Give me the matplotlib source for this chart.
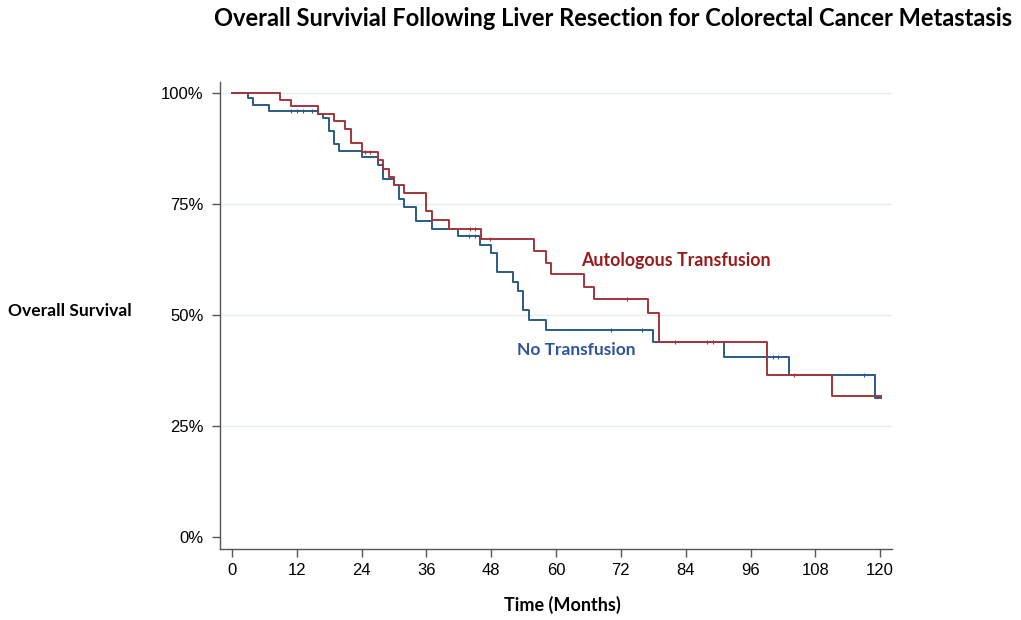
import numpy as np
import matplotlib
matplotlib.use("Agg")
import matplotlib.pyplot as plt

plt.rcParams['font.family'] = ['Liberation Sans', 'DejaVu Sans']

# Kaplan-Meier estimates (months, survival %) -- value after each event
auto_t = [0, 8.9, 10.9, 16.0, 18.9, 20.9, 22.0, 24.0, 27.0, 27.9, 29.0, 30.0,
          31.9, 36.0, 37.0, 40.1, 46.1, 56.0, 58.1, 59.0, 65.1, 67.0, 77.1,
          79.1, 99.0, 111.1, 120.2]
auto_s = [100, 98.5, 97.0, 95.4, 93.8, 91.9, 88.7, 86.8, 84.9, 83.0, 81.2, 79.4,
          77.4, 73.4, 71.4, 69.4, 67.1, 64.5, 61.8, 59.2, 56.4, 53.6, 50.5,
          43.9, 36.5, 31.8, 31.8]
auto_cens = [24.6, 25.6, 44.1, 45.0, 47.8, 73.1, 82.0, 104.0]

none_t = [0, 2.9, 3.9, 6.9, 16.0, 16.9, 18.0, 18.9, 19.9, 24.0, 27.0, 27.9,
          30.0, 30.9, 31.9, 34.1, 37.0, 41.9, 45.9, 48.0, 49.0, 52.0, 53.0,
          53.9, 55.0, 58.1, 78.0, 91.1, 103.1, 119.1, 120.2]
none_s = [100, 98.8, 97.3, 96.0, 95.4, 94.5, 91.5, 88.5, 86.9, 85.5, 83.8, 80.6,
          79.3, 76.1, 74.4, 71.1, 69.3, 67.8, 65.7, 63.9, 59.7, 57.5, 55.5,
          51.1, 48.9, 46.6, 44.0, 40.6, 36.6, 31.3, 31.3]
none_cens = [11.0, 12.1, 13.2, 14.8, 43.9, 45.0, 70.1, 76.0, 88.0, 89.0,
             100.2, 101.1, 117.0]

x_ticks = np.arange(0, 121, 12)
y_ticks = [0, 25, 50, 75, 100]
y_ticklabels = ['0%', '25%', '50%', '75%', '100%']

red = '#A3363D'
blue = '#2B5A87'


def surv_at(times, surv, t):
    i = np.searchsorted(times, t, side='right') - 1
    return np.asarray(surv)[i]


fig = plt.figure(figsize=(10.21, 6.2), dpi=100)
ax = fig.add_axes([0.2155, 0.1145, 0.6582, 0.7532])

for y in y_ticks[1:]:
    ax.axhline(y, color='#E6EDF0', lw=1.0, zorder=0)

ax.step(none_t, none_s, where='post', color=blue, lw=1.4, zorder=3)
ax.step(auto_t, auto_s, where='post', color=red, lw=1.4, zorder=4)

# censored observations
ax.plot(none_cens, surv_at(none_t, none_s, none_cens), ls='none', marker='|',
        ms=3, mew=0.8, color=blue, zorder=3)
ax.plot(auto_cens, surv_at(auto_t, auto_s, auto_cens), ls='none', marker='|',
        ms=3, mew=0.8, color=red, zorder=4)

ax.set_xlim(-2.2, 122.2)
ax.set_ylim(-2.7, 102.5)
ax.set_xticks(x_ticks)
ax.set_yticks(y_ticks)
ax.set_yticklabels(y_ticklabels)
ax.tick_params(axis='both', labelsize=12, length=6, width=1.0, color='#555555',
               labelcolor='black')
ax.tick_params(axis='y', pad=6)
ax.tick_params(axis='x', pad=4)
for side in ['top', 'right']:
    ax.spines[side].set_visible(False)
for side in ['left', 'bottom']:
    ax.spines[side].set_color('#555555')
    ax.spines[side].set_linewidth(1.0)

bold = dict(family=['Lato', 'DejaVu Sans'], fontweight='bold')
ax.text(64.6, 62.3, 'Autologous Transfusion', color='#9B1C1C', fontsize=12.8,
        va='center', ha='left', **bold)
ax.text(52.8, 42.1, 'No Transfusion', color='#2F5597', fontsize=12.5,
        va='center', ha='left', **bold)

fig.text(0.6, 1 - 18 / 620, 'Overall Survivial Following Liver Resection for Colorectal Cancer Metastasis',
         ha='center', va='center', fontsize=17, **bold)
fig.text(8 / 1021, 1 - 311 / 620, 'Overall Survival', ha='left', va='center',
         fontsize=12.6, **bold)
fig.text(562 / 1021, 1 - 605 / 620, 'Time (Months)', ha='center', va='center',
         fontsize=13, **bold)

fig.savefig('out.png', dpi=100)
